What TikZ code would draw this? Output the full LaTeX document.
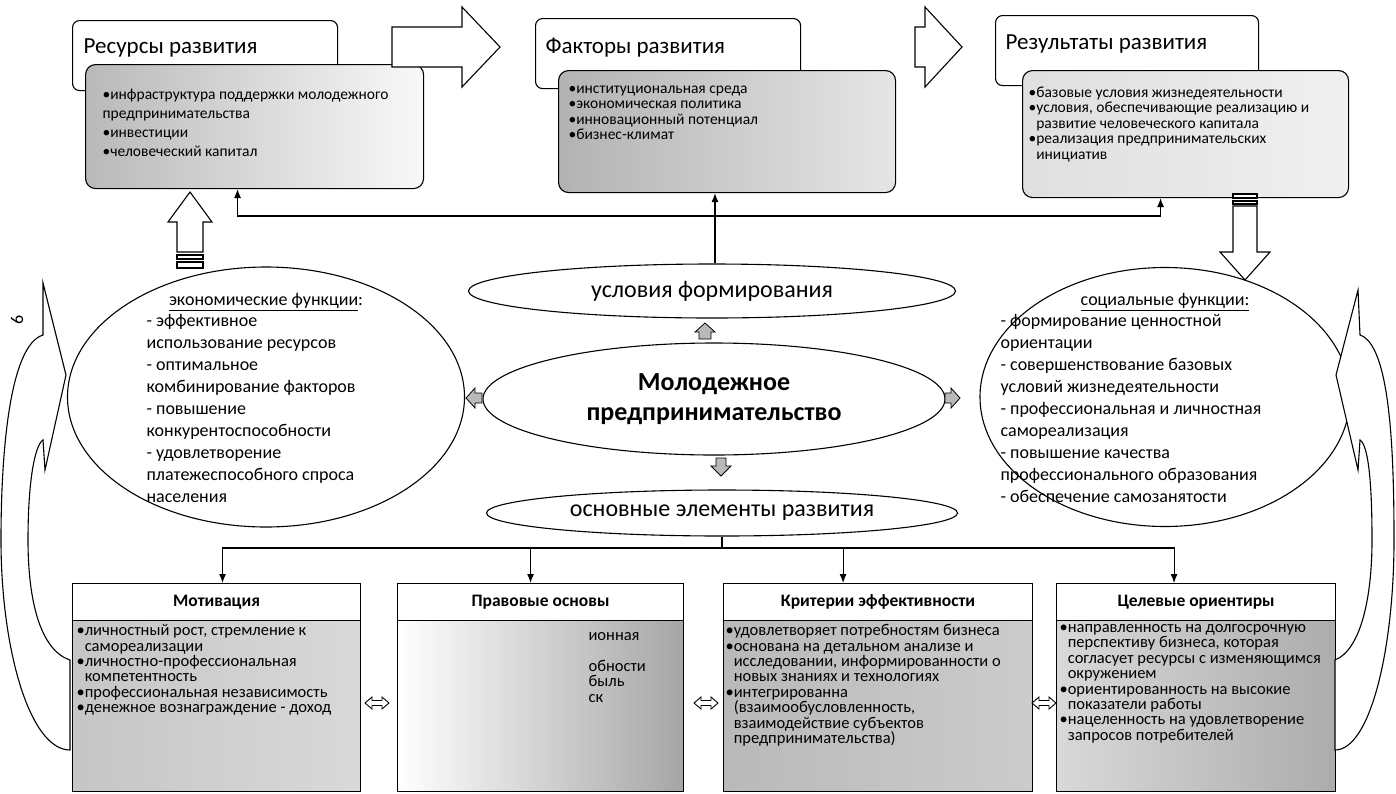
\documentclass[tikz,border=0pt]{standalone}
\usepackage{fontspec}
\setmainfont{Carlito}
\usepackage[usenames,dvipsnames]{xcolor}
\usepackage{tikz}
\usetikzlibrary{arrows.meta,shapes.geometric,backgrounds}
\AtBeginDocument{\lineskiplimit=-100pt\relax}

\begin{document}
\begin{tikzpicture}[x=1pt,y=-1pt,line width=1.1pt,>={Latex[length=9pt,width=7pt]},
  headbox/.style={draw,rounded corners=7pt,fill=white,anchor=north west,minimum height=70pt},
  listbox/.style={draw,rounded corners=10pt,anchor=north west},
  tlist/.style={anchor=north west,align=left,inner sep=0pt,font=\fontsize{15.5}{15.5}\selectfont},
  htitle/.style={anchor=west,inner sep=0pt,font=\fontsize{23}{27}\selectfont},
  oval/.style={draw,ellipse,fill=white,inner sep=0pt},
  ovaltext/.style={anchor=north west,align=left,inner sep=0pt,font=\fontsize{18}{22}\selectfont},
  blockarrow/.style={draw,fill=white,line join=miter},
  minarrow/.style={draw,fill=gray!55,line width=0.8pt,line join=miter},
  elemhead/.style={draw,fill=white,anchor=north west,minimum height=37pt,font=\bfseries\fontsize{17.5}{20}\selectfont},
  elembox/.style={draw,anchor=north west,minimum height=171pt},
  elemtext/.style={anchor=north west,align=left,inner sep=0pt,font=\fontsize{16.5}{15.4}\selectfont},
  twoway/.style={draw,fill=white,line width=0.9pt,line join=miter}]

\useasboundingbox (0,0) rectangle (1396,793);

\draw (72,20) node[headbox,minimum width=265pt] (resHead) {};
\draw (83,48) node[htitle] (resTitle) {Ресурсы развития};
\draw (85,64) node[listbox,minimum width=338pt,minimum height=124pt,left color=gray!55,right color=gray!5] (resList) {};
\draw (102,88) node[tlist,font=\fontsize{15.5}{19}\selectfont] (resText) {•инфраструктура поддержки молодежного\\предпринимательства\\•инвестиции\\•человеческий капитал};

\draw (535,18) node[headbox,minimum width=265pt] (facHead) {};
\draw (545,48) node[htitle] (facTitle) {Факторы развития};
\draw (558,70) node[listbox,minimum width=337pt,minimum height=122pt,left color=gray!60,right color=gray!20] (facList) {};
\draw (568,85) node[tlist] (facText) {•институциональная среда\\•экономическая политика\\•инновационный потенциал\\•бизнес-климат};

\draw (995,15) node[headbox,minimum width=263pt] (resultHead) {};
\draw (1005,44) node[htitle] (resultTitle) {Результаты развития};
\draw (1022,70) node[listbox,minimum width=326pt,minimum height=127pt,left color=gray!25,right color=gray!12] (resultList) {};
\draw (1028,86) node[tlist] (resultText) {•базовые условия жизнедеятельности\\•условия, обеспечивающие реализацию и\\\phantom{•}развитие человеческого капитала\\•реализация предпринимательских\\\phantom{•}инициатив};

\draw[blockarrow] (392,27) -- (462,27) -- (462,7) -- (500,47) -- (462,87) -- (462,67) -- (392,67) -- cycle;
\draw[blockarrow] (915,27) -- (925,27) -- (925,7) -- (962,47) -- (925,87) -- (925,67) -- (915,67) -- cycle;

\draw[blockarrow] (177,252) -- (177,222) -- (168,222) -- (190,192) -- (212,222) -- (203,222) -- (203,252) -- cycle;
\draw[blockarrow] (177,255) rectangle (203,259);
\draw[blockarrow] (177,262) rectangle (203,268);
\draw[blockarrow] (1233,206) -- (1233,252) -- (1220,252) -- (1245,280) -- (1270,252) -- (1257,252) -- (1257,206) -- cycle;
\draw[blockarrow] (1233,194) rectangle (1257,198);
\draw[blockarrow] (1233,201) rectangle (1257,204);

\draw (712,291) node[oval,minimum width=487pt,minimum height=54pt,font=\fontsize{24}{28}\selectfont] (condEll) {условия формирования};
\draw (714,399) node[oval,minimum width=462pt,minimum height=112pt,align=center,font=\bfseries\fontsize{26}{30}\selectfont] (mainEll) {Молодежное\\предпринимательство};
\draw (722,513) node[oval,minimum width=471pt,minimum height=46pt,font=\fontsize{24}{28}\selectfont] (baseEll) {основные элементы развития};

\coordinate (fbHub) at (715,216);
\draw[->] (condEll.north -| fbHub) -- (fbHub |- facList.south);
\draw[->] (fbHub) -| ([xshift=-17pt]resList.south);
\draw[->] (fbHub) -| ([xshift=-25pt]resultList.south);

\draw[minarrow] (705,323) -- (715,332) -- (711,332) -- (711,339) -- (699,339) -- (699,332) -- (695,332) -- cycle;
\draw[minarrow] (721,476) -- (731,466) -- (726,466) -- (726,458) -- (716,458) -- (716,466) -- (711,466) -- cycle;
\draw[minarrow] (466,398) -- (475,388) -- (475,393) -- (482,393) -- (482,403) -- (475,403) -- (475,408) -- cycle;
\draw[minarrow] (960,398) -- (951,388) -- (951,393) -- (945,393) -- (945,403) -- (951,403) -- (951,408) -- cycle;

\draw (266,397) node[oval,minimum width=397pt,minimum height=260pt] (econEll) {};
\draw (266,302) node[inner sep=0pt,font=\fontsize{18}{22}\selectfont] (econTitle) {\underline{экономические функции}:};
\draw (146,314) node[ovaltext] (econText) {- эффективное\\использование ресурсов\\- оптимальное\\комбинирование факторов\\- повышение\\конкурентоспособности\\- удовлетворение\\платежеспособного спроса\\населения};

\draw (1165,397) node[oval,minimum width=370pt,minimum height=259pt] (socEll) {};
\draw (1165,302) node[inner sep=0pt,font=\fontsize{18}{22}\selectfont] (socTitle) {\underline{социальные функции:}};
\draw (1000,314) node[ovaltext] (socText) {- формирование ценностной\\ориентации\\- совершенствование базовых\\условий жизнедеятельности\\- профессиональная и личностная\\самореализация\\- повышение качества\\профессионального образования\\- обеспечение самозанятости};

\draw (72,583) node[elemhead,minimum width=288pt] (motHead) {Мотивация};
\draw (72,620) node[elembox,minimum width=288pt,left color=gray!45,right color=gray!30] (motList) {};
\draw (76,624) node[elemtext] (motText) {•личностный рост, стремление к\\\phantom{•}самореализации\\•личностно-профессиональная\\\phantom{•}компетентность\\•профессиональная независимость\\•денежное вознаграждение - доход};

\draw (397,583) node[elemhead,minimum width=286pt] (lawHead) {Правовые основы};
\draw (397,620) node[elembox,minimum width=286pt,left color=white,middle color=white,right color=gray!70] (lawList) {};
\draw (588,632) node[elemtext] (lawText) {ионная\\\\обности\\быль\\ск};

\draw (723,583) node[elemhead,minimum width=309pt] (critHead) {Критерии эффективности};
\draw (723,620) node[elembox,minimum width=309pt,left color=gray!55,right color=gray!40] (critList) {};
\draw (725,624) node[elemtext] (critText) {•удовлетворяет потребностям бизнеса\\•основана на детальном анализе и\\\phantom{•}исследовании, информированности о\\\phantom{•}новых знаниях и технологиях\\•интегрированна\\\phantom{•}(взаимообусловленность,\\\phantom{•}взаимодействие субъектов\\\phantom{•}предпринимательства)};

\draw (1056,583) node[elemhead,minimum width=279pt] (aimHead) {Целевые ориентиры};
\draw (1056,620) node[elembox,minimum width=279pt,left color=gray!30,right color=gray!65] (aimList) {};
\draw (1059,624) node[elemtext] (aimText) {•направленность на долгосрочную\\\phantom{•}перспективу бизнеса, которая\\\phantom{•}согласует ресурсы с изменяющимся\\\phantom{•}окружением\\•ориентированность на высокие\\\phantom{•}показатели работы\\•нацеленность на удовлетворение\\\phantom{•}запросов потребителей};

\coordinate (elHub) at (baseEll.south |- 0,548);
\draw (baseEll.south) -- (elHub);
\draw[->] (elHub) -| ([xshift=6pt]motHead.north);
\draw[->] (elHub) -| ([xshift=-10pt]lawHead.north);
\draw[->] (elHub) -| ([xshift=-35pt]critHead.north);
\draw[->] (elHub) -| ([xshift=-22pt]aimHead.north);

\foreach \p in {377,706,1044}
  \draw[twoway,shift={(\p,703)}] (-12,0) -- (-5,-6) -- (-5,-2.5) -- (5,-2.5) -- (5,-6) -- (12,0) -- (5,6) -- (5,2.5) -- (-5,2.5) -- (-5,6) -- cycle;

\draw[blockarrow] (70,660) .. controls (40,650) and (28,600) .. (28,540) .. controls (28,480) and (35,445) .. (43,440) -- (45,470) -- (66,375) -- (43,283) -- (43,335) .. controls (10,345) and (1,450) .. (1,540) .. controls (1,650) and (30,750) .. (70,750) -- cycle;
\draw[blockarrow] (1335,660) .. controls (1360,650) and (1372,600) .. (1372,540) .. controls (1372,480) and (1368,445) .. (1360,440) -- (1358,470) -- (1336,375) -- (1358,290) -- (1360,335) .. controls (1390,345) and (1394,450) .. (1394,540) .. controls (1394,650) and (1370,750) .. (1335,750) -- cycle;

\draw (17,320) node[rotate=90,font=\fontsize{18}{20}\selectfont] (pageMark) {6};

\end{tikzpicture}
\end{document}
